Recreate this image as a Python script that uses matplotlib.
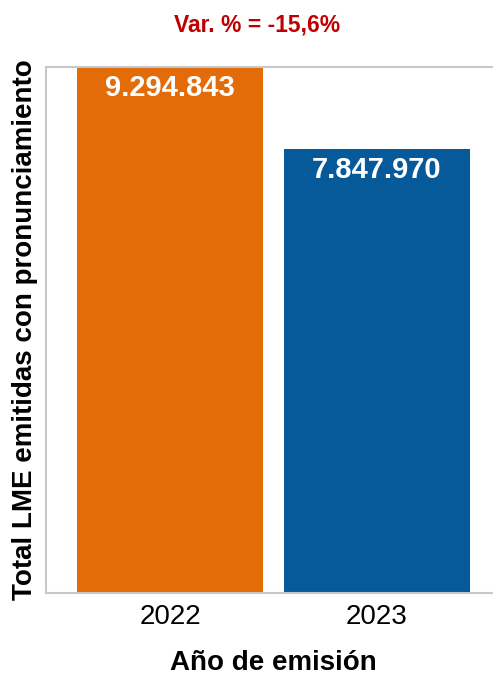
import matplotlib
matplotlib.use("Agg")
import matplotlib.pyplot as plt

# Datos
anios = ["2022", "2023"]
totales = [9294843, 7847970]
colores = ["#E36C09", "#065A9A"]
variacion = "Var. % = -15,6%"

plt.rcParams['font.family'] = ['Liberation Sans', 'DejaVu Sans']

fig = plt.figure(figsize=(4.93, 6.78), dpi=100)
ax = fig.add_axes([46 / 493, 85 / 678, 455 / 493, 526 / 678])

x = range(len(anios))
bars = ax.bar(x, totales, width=0.9, color=colores, zorder=2)

# Etiquetas de valor dentro de las barras
for b, v in zip(bars, totales):
    txt = f"{v:,}".replace(",", ".")
    ax.annotate(txt, (b.get_x() + b.get_width() / 2, v), xytext=(0, -5),
                textcoords='offset points', ha='center', va='top',
                color='white', fontsize=21, fontweight='bold')

ax.set_xlim(-0.6, 1.6)
ax.set_ylim(0, max(totales))
ax.set_xticks(list(x))
ax.set_xticklabels(anios, fontsize=20)
ax.set_yticks([])
ax.tick_params(axis='x', length=0, pad=8)

for s in ax.spines.values():
    s.set_color('#C8C8C8')
    s.set_linewidth(1.5)

ax.set_ylabel("Total LME emitidas con pronunciamiento", fontsize=20,
              fontweight='bold', labelpad=6)
ax.set_xlabel("Año de emisión", fontsize=20, fontweight='bold', labelpad=14)
fig.text(257 / 493, 1 - 25 / 678, variacion, ha='center', va='center',
         color='#C00000', fontsize=16.5, fontweight='bold')

fig.savefig("out.png", dpi=100)
